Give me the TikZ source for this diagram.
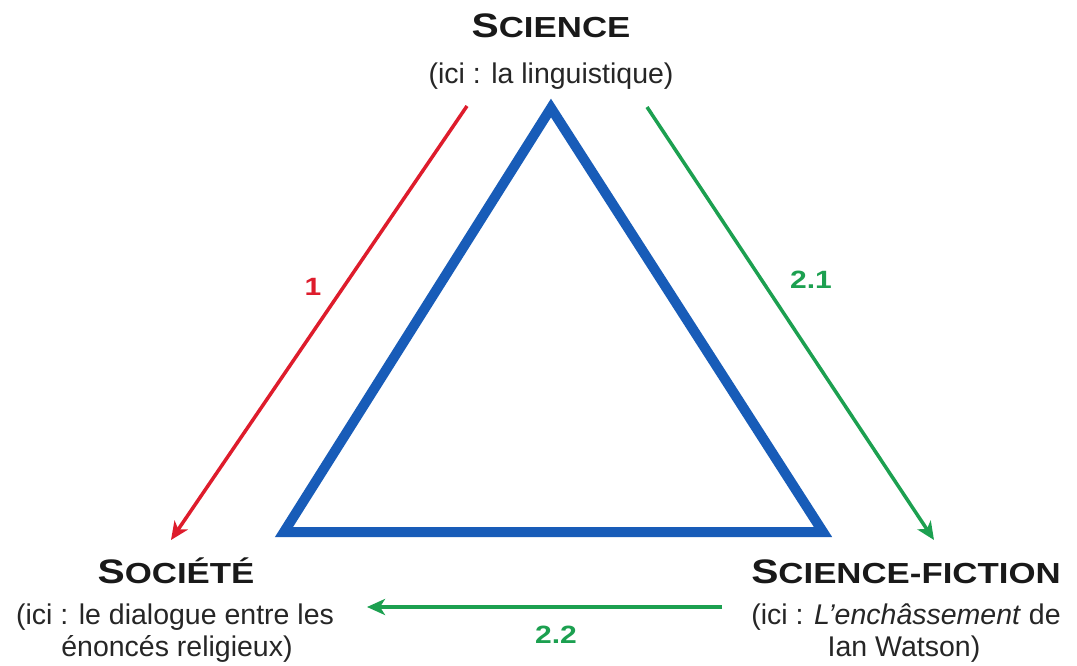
\documentclass[tikz,border=0pt]{standalone}
\usepackage{fontspec}
\setmainfont{Liberation Sans}
\usetikzlibrary{arrows.meta}
\definecolor{triblue}{RGB}{24,92,184}
\definecolor{arrred}{RGB}{222,28,44}
\definecolor{arrgreen}{RGB}{28,160,80}
\newcommand{\ttl}[2]{\scalebox{1.2}[1]{\bfseries\fontsize{34}{36}\selectfont #1\fontsize{29}{31}\selectfont #2}}
\tikzset{
  titlenode/.style={anchor=base, inner sep=0pt, text=black!90},
  subnode/.style={anchor=base, inner sep=0pt, font=\fontsize{28.5}{32}\selectfont, text=black!85},
  lbl/.style={anchor=base, inner sep=0pt},
  redarrow/.style={draw=arrred, line width=3.5pt, -{Stealth[length=18pt,width=16pt,inset=5pt]}},
  greenarrow/.style={draw=arrgreen, line width=3.5pt, -{Stealth[length=18pt,width=16pt,inset=5pt]}},
  tri/.style={draw=triblue, line width=10pt, line join=miter}
}
\begin{document}
\begin{tikzpicture}[x=1pt,y=-1pt]
\useasboundingbox[fill=white] (0,0) rectangle (1077,666);
% triangle
\coordinate (A) at (551,108);
\coordinate (B) at (284,532);
\coordinate (C) at (823,532);
\draw[tri] (A) -- (B) -- (C) -- cycle;
% titles
\node[titlenode] (sci) at (551,38) {\ttl{S}{CIENCE}};
\node[subnode] (scisub) at (551,84) {(ici : la linguistique)};
\node[titlenode] (soc) at (176,583) {\ttl{S}{OCIÉTÉ}};
\node[subnode] (socsub1) at (175,624) {(ici : le dialogue entre les};
\node[subnode] (socsub2) at (177,656) {énoncés religieux)};
\node[titlenode] (sf) at (906,583) {\ttl{S}{CIENCE-FICTION}};
\node[subnode] (sfsub1) at (906,624) {(ici : \textit{L’enchâssement} de};
\node[subnode] (sfsub2) at (904,656) {Ian Watson)};
% arrows
\coordinate (r1) at (467,106);
\coordinate (r2) at (171,540);
\draw[redarrow] (r1) -- (r2);
\coordinate (g1) at (647,107);
\coordinate (g2) at (934,540);
\draw[greenarrow] (g1) -- (g2);
\coordinate (h1) at (722,607);
\coordinate (h2) at (367,607);
\draw[greenarrow] (h1) -- (h2);
% labels
\node[lbl, text=arrred] (l1) at (313,295) {\scalebox{1.2}[1]{\bfseries\fontsize{25}{27}\selectfont 1}};
\node[lbl, text=arrgreen] (l21) at (811,288) {\scalebox{1.2}[1]{\bfseries\fontsize{25}{27}\selectfont 2.1}};
\node[lbl, text=arrgreen] (l22) at (556,643) {\scalebox{1.2}[1]{\bfseries\fontsize{25}{27}\selectfont 2.2}};
\end{tikzpicture}
\end{document}
